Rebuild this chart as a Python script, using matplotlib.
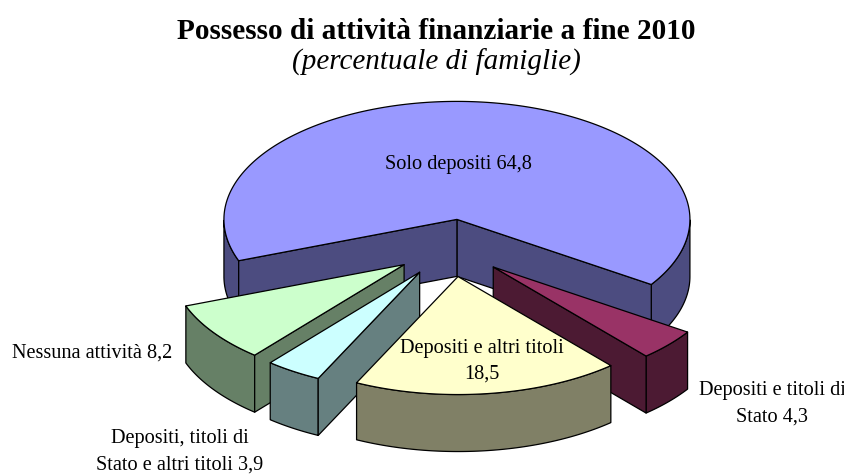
#!/usr/bin/env python3
import numpy as np
import matplotlib as mpl
mpl.use('agg')
import matplotlib.pyplot as plt
from matplotlib.patches import Polygon

title = 'Possesso di attività finanziarie a fine 2010'
subtitle = '(percentuale di famiglie)'

# clockwise from the start angle
categories = ['Solo depositi', 'Depositi e titoli di Stato', 'Depositi e altri titoli',
	'Depositi, titoli di Stato e altri titoli', 'Nessuna attività']
values = [64.8, 4.3, 18.5, 3.9, 8.2]
top_colors = ['#9999ff', '#993366', '#ffffcc', '#ccffff', '#ccffcc']
side_colors = ['#4c4c80', '#4c1a33', '#808066', '#668080', '#668066']
draw_order = [0, 1, 4, 3, 2]

# pie geometry in pixels
center_x, center_y = 450.5, 248
radius_x, radius_y = 233, 118
depth = 57
explode = 0.244
start_angle = 200.5


def project(angle, radius=1.0):
	t = np.radians(angle)
	return np.array([radius_x * radius * np.cos(t), -radius_y * radius * np.sin(t)])


def draw_slice(ax, a1, a2, top, side):
	mid = (a1 + a2) / 2
	apex = np.array([center_x, center_y]) + project(mid, explode)
	down = np.array([0, depth])
	style = dict(edgecolor='black', linewidth=0.9, joinstyle='round')

	angles = np.linspace(a1, a2, 480)

	# outer rim: the front half of the ellipse only, it can come in two pieces
	is_front = np.sin(np.radians(angles)) <= 0
	for run in np.split(angles, np.flatnonzero(np.diff(is_front.astype(int))) + 1):
		if len(run) > 1 and np.sin(np.radians(run[len(run) // 2])) <= 0:
			rim = apex + np.array([project(a) for a in run])
			ax.add_patch(Polygon(np.vstack([rim, (rim + down)[::-1]]), facecolor=side, **style))

	# cut faces, only those turned to the viewer
	faces = []
	if np.sin(np.radians(a1 - 90)) < 0:
		faces.append(apex + project(a1))
	if np.sin(np.radians(a2 + 90)) < 0:
		faces.append(apex + project(a2))
	for corner in faces:
		ax.add_patch(Polygon([apex, corner, corner + down, apex + down], facecolor=side, **style))

	arc = apex + np.array([project(a) for a in angles])
	ax.add_patch(Polygon(np.vstack([apex, arc]), facecolor=top, **style))


def main():
	plt.rcParams['font.family'] = ['Liberation Serif', 'DejaVu Serif']
	fig = plt.figure(figsize=(8.45, 4.74), dpi=100)
	ax = fig.add_axes([0, 0, 1, 1])
	ax.set_xlim(0, 845)
	ax.set_ylim(474, 0)
	ax.axis('off')

	shares = np.array(values) / sum(values) * 360
	ends = start_angle - np.cumsum(shares)
	starts = ends + shares
	for i in draw_order:
		draw_slice(ax, ends[i], starts[i], top_colors[i], side_colors[i])

	ax.text(436, 31, title, fontsize=21.1, fontweight='bold', ha='center', va='center')
	ax.text(436, 62, subtitle, fontsize=21, style='italic', ha='center', va='center')

	label = dict(fontsize=14.6, ha='center', va='center')
	ax.text(458, 165, 'Solo depositi 64,8', **label)
	ax.text(482, 349, 'Depositi e altri titoli', **label)
	ax.text(482, 374, '18,5', **label)
	ax.text(92, 353, 'Nessuna attività 8,2', **label)
	ax.text(772, 391, 'Depositi e titoli di', **label)
	ax.text(772, 417, 'Stato 4,3', **label)
	ax.text(180, 438, 'Depositi, titoli di', **label)
	ax.text(180, 465, 'Stato e altri titoli 3,9', **label)

	fig.savefig('out.png', dpi=100)


if __name__ == '__main__':
	main()
